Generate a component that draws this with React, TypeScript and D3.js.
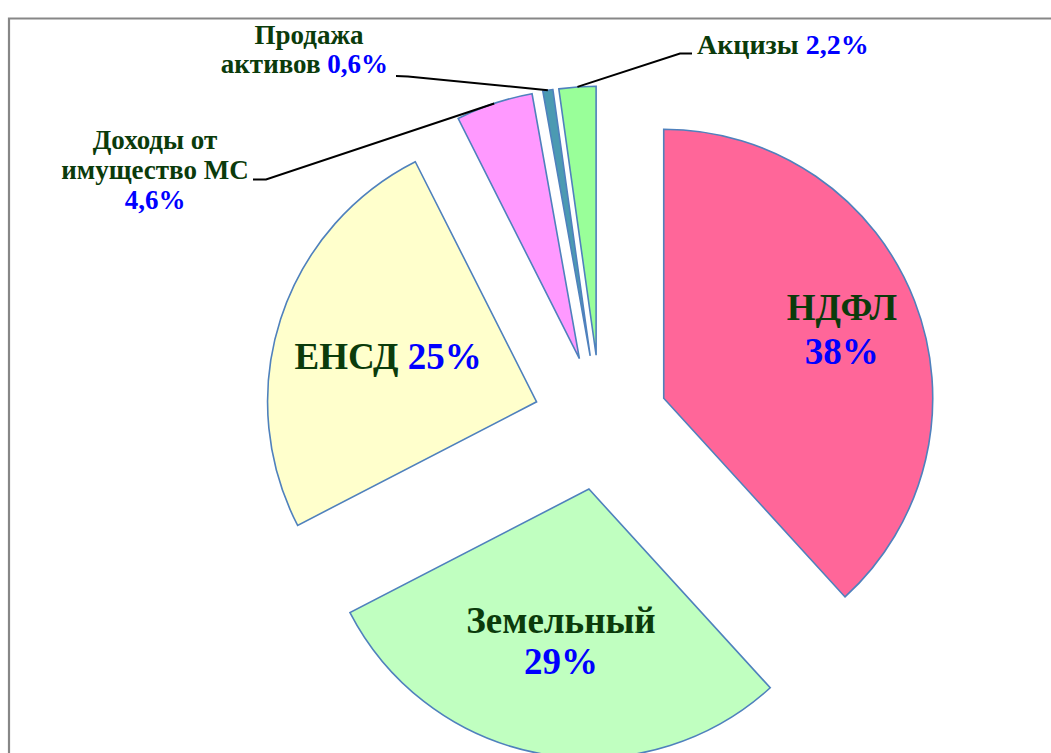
import React from "react";
import * as d3 from "d3";

const categories = ["НДФЛ", "Земельный", "ЕНСД", "Доходы от имущество МС", "Продажа активов", "Акцизы"];
const values = [38, 29, 25, 4.6, 0.6, 2.2];
const valueLabels = ["38%", "29%", "25%", "4,6%", "0,6%", "2,2%"];
const colors = ["#FF6699", "#C0FFC0", "#FFFFCC", "#FF99FF", "#4B9AB2", "#99FF99"];

const W = 1051;
const H = 753;
const CX = 600.8;
const CY = 422.6;
const R = 269;
const EXPLODE = 67.5;
const GREEN = "#0B3B0B";
const BLUE = "#0000FF";
const FONT = "'Liberation Serif', 'Times New Roman', serif";

export default function App() {
  const pie = d3.pie<number>().sort(null).value((d) => d)(values);
  const arc = d3.arc<d3.PieArcDatum<number>>().innerRadius(0).outerRadius(R);

  const slices = pie.map((p, i) => {
    const mid = (p.startAngle + p.endAngle) / 2;
    const dx = Math.sin(mid) * EXPLODE;
    const dy = -Math.cos(mid) * EXPLODE;
    const ox = CX + dx;
    const oy = CY + dy;
    const outer: [number, number] = [ox + Math.sin(mid) * R, oy - Math.cos(mid) * R];
    const at = (f: number): [number, number] => [ox + Math.sin(mid) * R * f, oy - Math.cos(mid) * R * f];
    return { p, i, mid, ox, oy, outer, at };
  });

  const lineGen = d3.line();

  const ndfl = slices[0].at(0.71);
  const zem = slices[1].at(0.59);
  const ensd = slices[2].at(0.58);

  return (
    <svg
      width={W}
      height={H}
      style={{ position: "absolute", left: 0, top: 0, background: "#fff" }}
      fontFamily={FONT}
      fontWeight="bold"
    >
      <rect x={0} y={0} width={W} height={H} fill="#fff" />
      <path d={`M9,${H + 5} L9,18.5 L${W + 5},18.5`} fill="none" stroke="#878787" strokeWidth={2.2} />

      {slices.map((s) => (
        <path
          key={s.i}
          d={arc(s.p) || ""}
          transform={`translate(${s.ox},${s.oy})`}
          fill={colors[s.i]}
          stroke="#4F81BD"
          strokeWidth={1.6}
          strokeLinejoin="miter"
        />
      ))}

      <path d={lineGen([[253, 179.5], [266, 179.5], slices[3].outer]) || ""} fill="none" stroke="#000" strokeWidth={2} />
      <path d={lineGen([[396, 76], [408, 76.5], slices[4].outer]) || ""} fill="none" stroke="#000" strokeWidth={2} />
      <path d={lineGen([slices[5].outer, [680, 53.5], [692, 53.5]]) || ""} fill="none" stroke="#000" strokeWidth={2} />

      <text x={ndfl[0]} y={ndfl[1] - 9} textAnchor="middle" fontSize={37} fill={GREEN}>
        {categories[0]}
      </text>
      <text x={ndfl[0]} y={ndfl[1] + 35} textAnchor="middle" fontSize={37} fill={BLUE}>
        {valueLabels[0]}
      </text>

      <text x={zem[0]} y={zem[1] - 12} textAnchor="middle" fontSize={37} fill={GREEN}>
        {categories[1]}
      </text>
      <text x={zem[0]} y={zem[1] + 29} textAnchor="middle" fontSize={37} fill={BLUE}>
        {valueLabels[1]}
      </text>

      <text x={ensd[0]} y={ensd[1] + 15} textAnchor="middle" fontSize={37}>
        <tspan fill={GREEN}>{categories[2]} </tspan>
        <tspan fill={BLUE}>{valueLabels[2]}</tspan>
      </text>

      <text textAnchor="middle" fontSize={27} fill={GREEN}>
        <tspan x={155} y={149}>Доходы от</tspan>
        <tspan x={155} y={179}>имущество МС</tspan>
        <tspan x={155} y={209} fill={BLUE}>{valueLabels[3]}</tspan>
      </text>

      <text textAnchor="middle" fontSize={27} fill={GREEN}>
        <tspan x={309} y={44}>Продажа</tspan>
      </text>
      <text x={388} y={73} textAnchor="end" fontSize={27}>
        <tspan fill={GREEN}>активов </tspan>
        <tspan fill={BLUE}>{valueLabels[4]}</tspan>
      </text>

      <text x={697} y={54} fontSize={28}>
        <tspan fill={GREEN}>{categories[5]} </tspan>
        <tspan fill={BLUE}>{valueLabels[5]}</tspan>
      </text>
    </svg>
  );
}
